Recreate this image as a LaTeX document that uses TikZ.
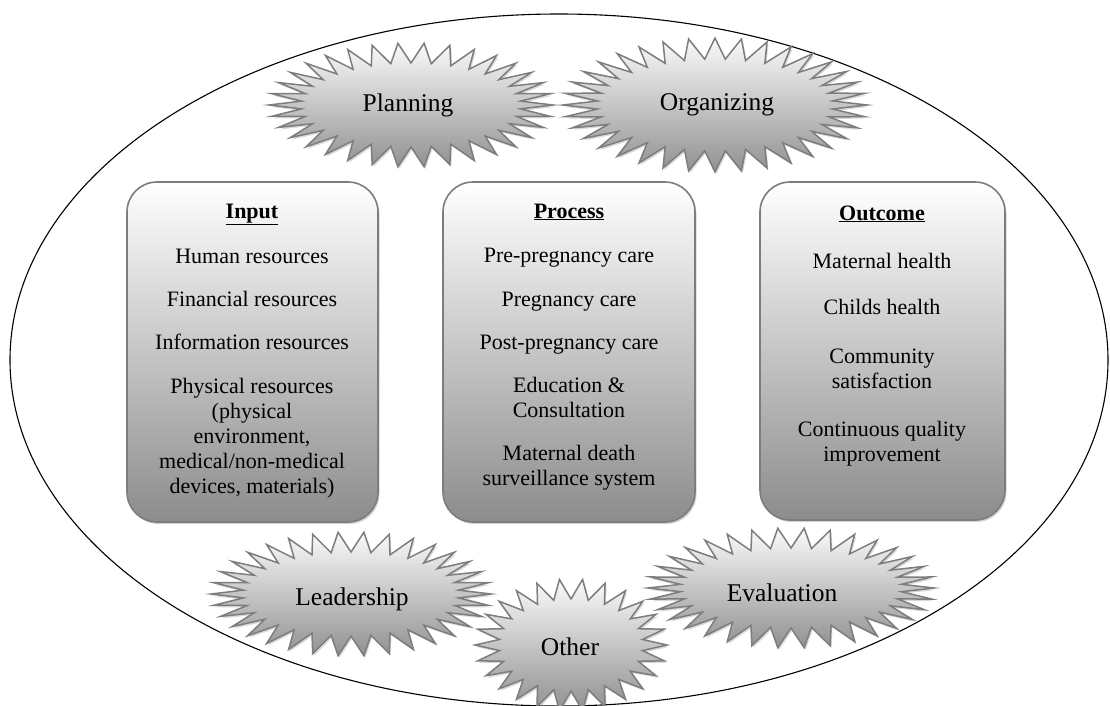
\documentclass[tikz,border=0pt]{standalone}
\usepackage{fontspec}
\setmainfont{Liberation Serif}
\usetikzlibrary{shadows}
\definecolor{edgegray}{RGB}{125,125,125}
\definecolor{boxbot}{RGB}{140,140,140}
\definecolor{starbot}{RGB}{145,145,145}
\definecolor{startop}{RGB}{250,250,250}
\newcommand\stacklines[1]{\begin{tabular}[t]{@{}c@{}}#1\end{tabular}}
\newcommand\spikystar[8]{%
  \path[zstar,#8] ({#1+#3},#2)
    \foreach \k in {1,...,\numexpr#7-1\relax}{
      -- ({#1+#5*cos((2*\k-1)*180/#7)},{#2+#6*sin((2*\k-1)*180/#7)})
      -- ({#1+#3*cos(2*\k*180/#7)},{#2+#4*sin(2*\k*180/#7)}) }
    -- ({#1+#5*cos((2*#7-1)*180/#7)},{#2+#6*sin((2*#7-1)*180/#7)}) -- cycle;}
\tikzset{
  stagebox/.style={draw=edgegray, line width=1.6pt, rounded corners=30pt,
    top color=white, bottom color=boxbot,
    drop shadow={shadow xshift=1.5pt, shadow yshift=-2pt, opacity=0.35}},
  zstar/.style={draw=edgegray, line width=1.5pt, line join=miter,
    top color=startop, bottom color=starbot,
    drop shadow={shadow xshift=1.5pt, shadow yshift=-2pt, opacity=0.3}},
  boxtext/.style={font=\fontsize{22}{25}\selectfont, anchor=base, inner sep=0pt},
  startext/.style={font=\fontsize{25.5}{28}\selectfont, anchor=base, inner sep=0pt},
}
\begin{document}
\begin{tikzpicture}[x=1pt, y=-1pt]
\useasboundingbox (0,0) rectangle (1110,705);
% frame
\draw[line width=1.1pt] (559,360) ellipse [x radius=549, y radius=346];
% top stars
\spikystar{411}{105}{142}{62}{110}{42}{34}{}
\spikystar{715}{105}{152}{67}{118}{46}{36}{}
\node[startext] (planning) at (408,111) {Planning};
\node[startext] (organizing) at (717,110) {Organizing};
% boxes
\node[stagebox, minimum width=251pt, minimum height=340pt] (inbox) at (252.5,352) {};
\node[stagebox, minimum width=252pt, minimum height=340pt] (procbox) at (569,352) {};
\node[stagebox, minimum width=245pt, minimum height=338pt] (outbox) at (882.5,351) {};
% input texts
\node[boxtext] (intitle) at (252,218) {\underline{\textbf{Input}}};
\node[boxtext] (inhr) at (252,263) {Human resources};
\node[boxtext] (infin) at (252,306) {Financial resources};
\node[boxtext] (ininfo) at (252,349) {Information resources};
\node[boxtext] (inphys) at (252,393) {\stacklines{Physical resources\\(physical\\environment,\\medical/non-medical\\devices, materials)}};
% process texts
\node[boxtext] (proctitle) at (569,218) {\underline{\textbf{Process}}};
\node[boxtext] (procpre) at (569,262) {Pre-pregnancy care};
\node[boxtext] (procpreg) at (569,306) {Pregnancy care};
\node[boxtext] (procpost) at (569,349) {Post-pregnancy care};
\node[boxtext] (procedu) at (569,392) {\stacklines{Education \&\\Consultation}};
\node[boxtext] (procmds) at (569,460) {\stacklines{Maternal death\\surveillance system}};
% outcome texts
\node[boxtext] (outtitle) at (882,220) {\underline{\textbf{Outcome}}};
\node[boxtext] (outmh) at (882,268) {Maternal health};
\node[boxtext] (outch) at (882,314) {Childs health};
\node[boxtext] (outcs) at (882,363) {\stacklines{Community\\satisfaction}};
\node[boxtext] (outcqi) at (882,436) {\stacklines{Continuous quality\\improvement}};
% bottom stars
\spikystar{351}{594}{140}{62}{108}{42}{34}{}
\spikystar{571}{645}{96}{66}{72}{46}{26}{}
\spikystar{791}{588}{143}{60}{111}{40}{34}{}
\node[startext] (leadership) at (352,605) {Leadership};
\node[startext] (other) at (570,655) {Other};
\node[startext] (evaluation) at (782,601) {Evaluation};
\end{tikzpicture}
\end{document}
